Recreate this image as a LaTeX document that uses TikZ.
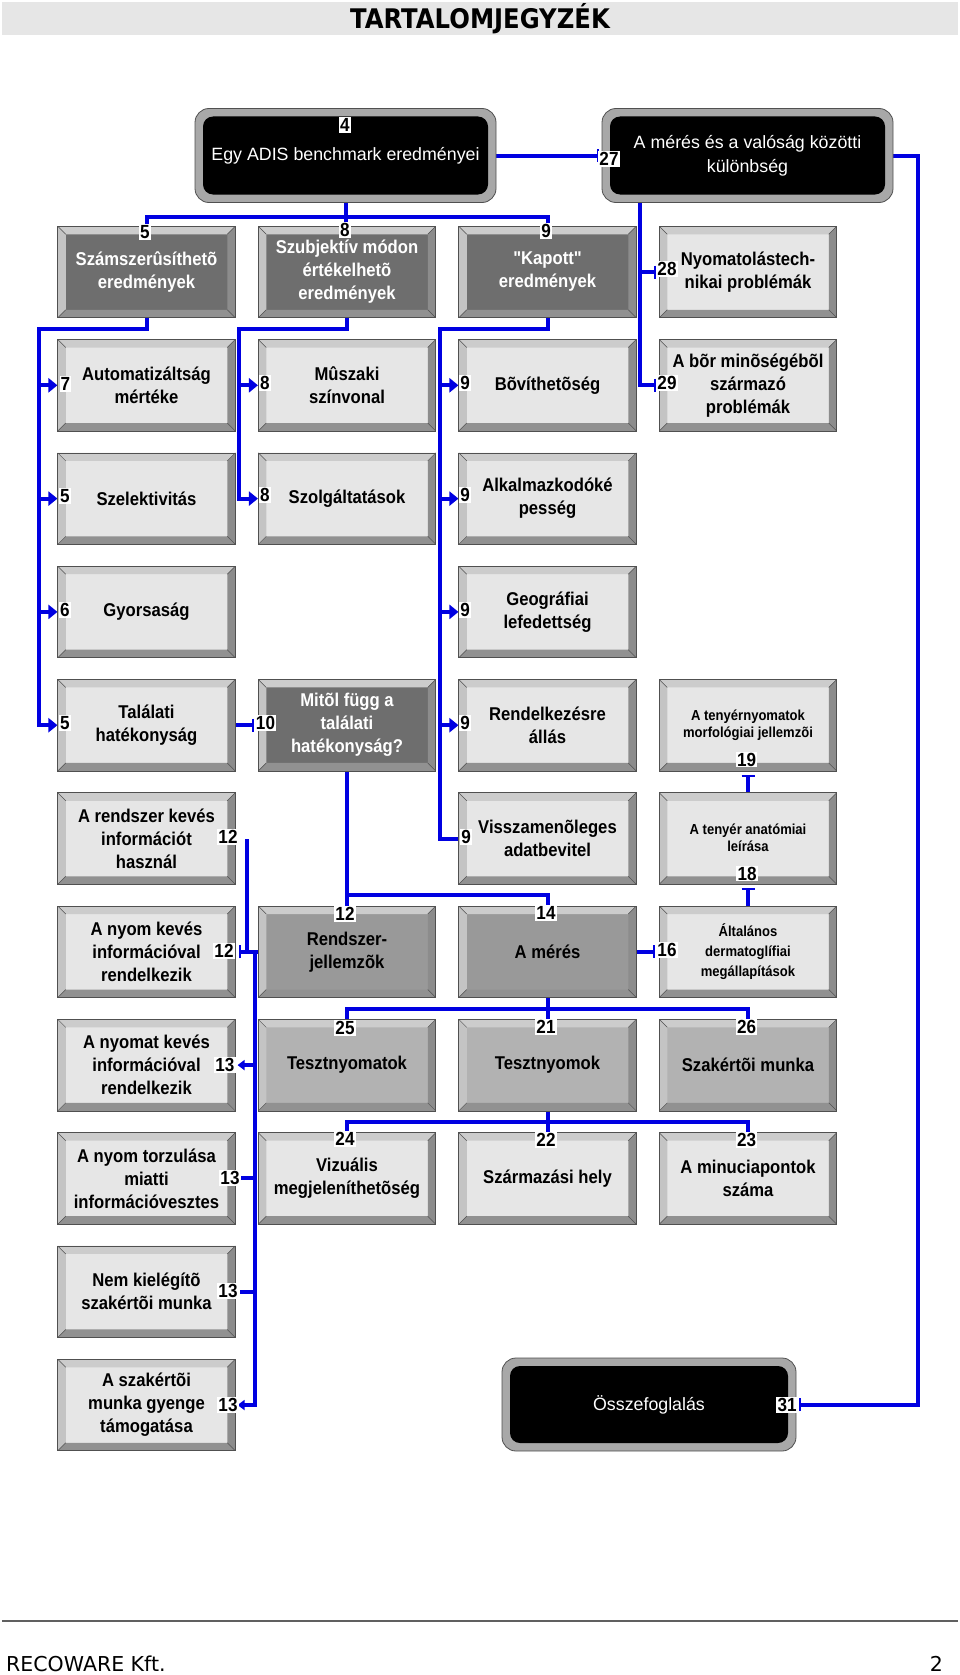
\documentclass[tikz,border=0pt]{standalone}
\usepackage{fontspec}
\setmainfont{Liberation Sans}
\newfontfamily\bxf[FakeStretch=0.9]{Liberation Sans}
\newfontfamily\dejavu{DejaVu Sans}
\newfontfamily\titlef[FakeStretch=0.9]{DejaVu Sans}
\usetikzlibrary{arrows.meta}
\pgfdeclarelayer{bg}
\pgfsetlayers{bg,main}
\newcommand\boxfont{\bxf\bfseries\fontsize{18.5}{23}\selectfont}
\newcommand\smallboxfont{\bxf\bfseries\fontsize{14.5}{20}\selectfont}
\newcommand\lblfont{\bxf\bfseries\fontsize{19}{20}\selectfont}
\newcommand\bbfont{\fontsize{17.8}{24}\selectfont}
\definecolor{cblue}{RGB}{0,0,225}
\definecolor{facelight}{RGB}{230,230,230}
\definecolor{facedark}{RGB}{110,110,110}
\definecolor{facemed}{RGB}{153,153,153}
\definecolor{facelmed}{RGB}{178,178,178}
\definecolor{bevT}{RGB}{204,204,204}
\definecolor{bevL}{RGB}{196,196,196}
\definecolor{bevR}{RGB}{140,140,140}
\definecolor{bevB}{RGB}{145,145,145}
\definecolor{bevline}{RGB}{80,80,80}
\definecolor{bbgray}{RGB}{168,168,168}
\definecolor{titlebg}{RGB}{230,230,230}
\definecolor{footgray}{RGB}{96,96,96}
\tikzset{
  bevel/.style={draw=bevline, line width=0.6pt, minimum width=177.5pt, minimum height=91.5pt,
    inner sep=0pt, align=center, font=\boxfont,
    path picture={
      \coordinate (q1) at (path picture bounding box.north west);
      \coordinate (q3) at (path picture bounding box.south east);
      \coordinate (p1) at ([shift={(8pt,-8pt)}]q1);
      \coordinate (p3) at ([shift={(-8pt,8pt)}]q3);
      \fill[bevT] (q1) -- (q1 -| q3) -- (p1 -| p3) -- (p1) -- cycle;
      \fill[bevL] (q1) -- (p1) -- (p1 |- p3) -- (q1 |- q3) -- cycle;
      \fill[bevR] (q1 -| q3) -- (q3) -- (p3) -- (p1 -| p3) -- cycle;
      \fill[bevB] (q1 |- q3) -- (q3) -- (p3) -- (p1 |- p3) -- cycle;
      \draw[bevline, line width=0.5pt] (q1) -- (p1) (q1 -| q3) -- (p1 -| p3)
        (q3) -- (p3) (q1 |- q3) -- (p1 |- p3);
    }},
  lightbox/.style={bevel, fill=facelight},
  darkbox/.style={bevel, fill=facedark, text=white},
  medbox/.style={bevel, fill=facemed},
  lmedbox/.style={bevel, fill=facelmed},
  smallbox/.style={lightbox, font=\smallboxfont},
  blackbox/.style={rounded corners=14pt, fill=bbgray, draw=bevline, line width=0.8pt,
    inner sep=0pt, align=center, text=white, font=\bbfont, minimum height=94pt,
    path picture={
      \fill[black, rounded corners=10pt]
        ([shift={(8pt,-8pt)}]path picture bounding box.north west) rectangle
        ([shift={(-8pt,8pt)}]path picture bounding box.south east);
    }},
  conn/.style={draw=cblue, line width=4pt},
  barT/.tip={Bar[width=13pt, line width=2pt]},
  tri/.tip={Triangle[width=14pt, length=9pt]},
  trismall/.tip={Triangle[width=10pt, length=7pt]},
  lbl/.style={fill=white, font=\lblfont, inner xsep=1.2pt, inner ysep=1pt, text=black},
}
\begin{document}
\begin{tikzpicture}[x=1pt, y=-1pt]
\useasboundingbox (0,0) rectangle (960,1675);

% title
\node[fill=titlebg, minimum width=956pt, minimum height=33pt, inner sep=0pt,
      font=\titlef\bfseries\fontsize{27}{30}\selectfont] (title) at (480,18.5) {TARTALOMJEGYZÉK};

% black boxes
\node[blackbox, minimum width=301pt] (adis) at (345.5,155.5) {Egy ADIS benchmark eredményei};
\node[blackbox, minimum width=291pt] (kul) at (747.5,155.5) {A mérés és a valóság közötti\\különbség};
\node[blackbox, minimum width=294pt, minimum height=93pt] (ossz) at (649,1404.5) {Összefoglalás};

% row 1
\node[darkbox] (r1c1) at (146.5,272) {Számszerûsíthetõ\\eredmények};
\node[darkbox] (r1c2) at (347,272) {Szubjektív módon\\értékelhetõ\\eredmények};
\node[darkbox] (r1c3) at (547.5,272) {"Kapott"\\eredmények};
\node[lightbox] (r1c4) at (748,272) {Nyomatolástech-\\nikai problémák};
% row 2
\node[lightbox] (r2c1) at (146.5,385.3) {Automatizáltság\\mértéke};
\node[lightbox] (r2c2) at (347,385.3) {Mûszaki\\színvonal};
\node[lightbox] (r2c3) at (547.5,385.3) {Bõvíthetõség};
\node[lightbox] (r2c4) at (748,385.3) {A bõr minõségébõl\\származó\\problémák};
% row 3
\node[lightbox] (r3c1) at (146.5,498.6) {Szelektivitás};
\node[lightbox] (r3c2) at (347,498.6) {Szolgáltatások};
\node[lightbox] (r3c3) at (547.5,498.6) {Alkalmazkodóké\\pesség};
% row 4
\node[lightbox] (r4c1) at (146.5,611.9) {Gyorsaság};
\node[lightbox] (r4c3) at (547.5,611.9) {Geográfiai\\lefedettség};
% row 5
\node[lightbox] (r5c1) at (146.5,725.2) {Találati\\hatékonyság};
\node[darkbox] (r5c2) at (347,725.2) {Mitõl függ a\\találati\\hatékonyság?};
\node[lightbox] (r5c3) at (547.5,725.2) {Rendelkezésre\\állás};
\node[smallbox] (r5c4) at (748,725.2) {\raisebox{3pt}{\begin{tabular}{@{}c@{}}A tenyérnyomatok\\[-3pt]morfológiai jellemzõi\end{tabular}}};
% row 6
\node[lightbox] (r6c1) at (146.5,838.5) {A rendszer kevés\\információt\\használ};
\node[lightbox] (r6c3) at (547.5,838.5) {Visszamenõleges\\adatbevitel};
\node[smallbox] (r6c4) at (748,838.5) {\raisebox{3pt}{\begin{tabular}{@{}c@{}}A tenyér anatómiai\\[-3pt]leírása\end{tabular}}};
% row 7
\node[lightbox] (r7c1) at (146.5,951.8) {A nyom kevés\\információval\\rendelkezik};
\node[medbox] (r7c2) at (347,951.8) {Rendszer-\\jellemzõk};
\node[medbox] (r7c3) at (547.5,951.8) {A mérés};
\node[smallbox] (r7c4) at (748,951.8) {Általános\\dermatoglífiai\\megállapítások};
% row 8
\node[lightbox] (r8c1) at (146.5,1065.1) {A nyomat kevés\\információval\\rendelkezik};
\node[lmedbox] (r8c2) at (347,1065.1) {Tesztnyomatok};
\node[lmedbox] (r8c3) at (547.5,1065.1) {Tesztnyomok};
\node[lmedbox] (r8c4) at (748,1065.1) {Szakértõi munka};
% row 9
\node[lightbox] (r9c1) at (146.5,1178.4) {A nyom torzulása\\miatti\\információvesztes};
\node[lightbox] (r9c2) at (347,1178.4) {Vizuális\\megjeleníthetõség};
\node[lightbox] (r9c3) at (547.5,1178.4) {Származási hely};
\node[lightbox] (r9c4) at (748,1178.4) {A minuciapontok\\száma};
% rows 10, 11
\node[lightbox] (r10c1) at (146.5,1291.7) {Nem kielégítõ\\szakértõi munka};
\node[lightbox] (r11c1) at (146.5,1405) {A szakértõi\\munka gyenge\\támogatása};

% helper coordinates
\coordinate (kd) at (640,0);
\coordinate (rb) at (918,0);
\coordinate (L1) at (39,0);
\coordinate (L2) at (239,0);
\coordinate (L3) at (440,0);
\coordinate (V1) at (247,0);
\coordinate (V2) at (255,0);
\coordinate (b2) at (0,895);
\coordinate (b3) at (0,1009);
\coordinate (b4) at (0,1122);

\begin{pgfonlayer}{bg}
\draw[conn] (adis.south) -- (adis.south |- r1c2.north);
\draw[conn] (r1c1.north) -- ++(0,-9) -| (r1c3.north);
\draw[conn,-barT] (adis.east) -- ([xshift=-3pt]kul.west);
\draw[conn,-barT] (kd |- kul.south) |- ([xshift=-3pt]r1c4.west);
\draw[conn,-barT] (kd |- kul.south) |- ([xshift=-3pt]r2c4.west);
\draw[conn,-barT] (kul.east) -- (kul.east -| rb) -- (rb |- ossz.east) -- ([xshift=3pt]ossz.east);

\draw[conn,-tri] (r1c1.south) -- ++(0,11) -| (L1 |- r5c1.west) -- (r5c1.west);
\draw[conn,-tri] (L1 |- r2c1.west) -- (r2c1.west);
\draw[conn,-tri] (L1 |- r3c1.west) -- (r3c1.west);
\draw[conn,-tri] (L1 |- r4c1.west) -- (r4c1.west);

\draw[conn,-tri] (r1c2.south) -- ++(0,11) -| (L2 |- r3c2.west) -- (r3c2.west);
\draw[conn,-tri] (L2 |- r2c2.west) -- (r2c2.west);

\draw[conn] (r1c3.south) -- ++(0,11) -| (L3 |- r6c3.west) -- (r6c3.west);
\draw[conn,-tri] (L3 |- r2c3.west) -- (r2c3.west);
\draw[conn,-tri] (L3 |- r3c3.west) -- (r3c3.west);
\draw[conn,-tri] (L3 |- r4c3.west) -- (r4c3.west);
\draw[conn,-tri] (L3 |- r5c3.west) -- (r5c3.west);

\draw[conn,-barT] (r5c1.east) -- ([xshift=-4pt]r5c2.west);
\draw[conn] (r5c2.south) -- (r7c2.north);
\draw[conn] (r5c2.south |- b2) -| (r7c3.north);

\draw[conn,-barT] (r7c3.east) -- ([xshift=-4pt]r7c4.west);
\draw[conn,-barT] (r7c4.north) -- ([yshift=-3pt]r6c4.south);
\draw[conn,-barT] (r6c4.north) -- ([yshift=-4pt]r5c4.south);

\draw[conn,-barT] (r7c2.west) -- ([xshift=3pt]r7c1.east);
\draw[conn] (V1 |- r7c2.west) -- (V1 |- r6c1.east);
\draw[conn,-trismall] (V2 |- r7c2.west) -- (V2 |- r11c1.east) -- ([xshift=2pt]r11c1.east);
\draw[conn,-trismall] (V2 |- r8c1.east) -- ([xshift=2pt]r8c1.east);
\draw[conn] (V2 |- r9c1.east) -- ([xshift=5pt]r9c1.east);
\draw[conn] (V2 |- r10c1.east) -- ([xshift=4pt]r10c1.east);

\draw[conn] (r7c3.south) -- (r8c3.north);
\draw[conn] (r8c2.north) |- (b3 -| r8c4.north) -- (r8c4.north);
\draw[conn] (r8c3.south) -- (r9c3.north);
\draw[conn] (r9c2.north) |- (b4 -| r9c4.north) -- (r9c4.north);
\end{pgfonlayer}

% labels
\node[lbl] (l4) at (345,125) {4};
\node[lbl] (l27) at (609,159) {27};
\node[lbl] (l5a) at (145,232) {5};
\node[lbl] (l8a) at (345,230) {8};
\node[lbl] (l9a) at (546,231) {9};
\node[lbl] (l28) at (667,269) {28};
\node[lbl] (l29) at (667,383) {29};
\node[lbl] (l7) at (65.5,384) {7};
\node[lbl] (l8b) at (265,383) {8};
\node[lbl] (l9b) at (465,383) {9};
\node[lbl] (l5b) at (65,496) {5};
\node[lbl] (l8c) at (265,495) {8};
\node[lbl] (l9c) at (465,495) {9};
\node[lbl] (l6) at (65,610) {6};
\node[lbl] (l9d) at (465,610) {9};
\node[lbl] (l5c) at (65,723) {5};
\node[lbl] (l10) at (265.5,723) {10};
\node[lbl] (l9e) at (465,723) {9};
\node[lbl] (l19) at (746.5,759.5) {19};
\node[lbl] (l12a) at (228,837) {12};
\node[lbl] (l9f) at (466,837) {9};
\node[lbl] (l18) at (747,873.5) {18};
\node[lbl] (l12b) at (224,951) {12};
\node[lbl] (l12c) at (345,914) {12};
\node[lbl] (l14) at (546,913) {14};
\node[lbl] (l16) at (667,950) {16};
\node[lbl] (l13a) at (225,1065) {13};
\node[lbl] (l25) at (345,1028) {25};
\node[lbl] (l21) at (546,1027) {21};
\node[lbl] (l26) at (746.5,1027) {26};
\node[lbl] (l13b) at (230,1178) {13};
\node[lbl] (l24) at (345,1139) {24};
\node[lbl] (l22) at (546,1140) {22};
\node[lbl] (l23) at (746.5,1140) {23};
\node[lbl] (l13c) at (228,1291) {13};
\node[lbl] (l13d) at (228,1405) {13};
\node[lbl] (l31) at (787,1405) {31};

% footer
\draw[draw=footgray, line width=2pt] (2,1621) -- (958,1621);
\node[anchor=base west, inner sep=0pt, font=\dejavu\fontsize{20.5}{22}\selectfont] (foot) at (6,1671) {RECOWARE Kft.};
\node[anchor=base east, inner sep=0pt, font=\dejavu\fontsize{20.5}{22}\selectfont] (page) at (943,1671) {2};
\end{tikzpicture}
\end{document}
